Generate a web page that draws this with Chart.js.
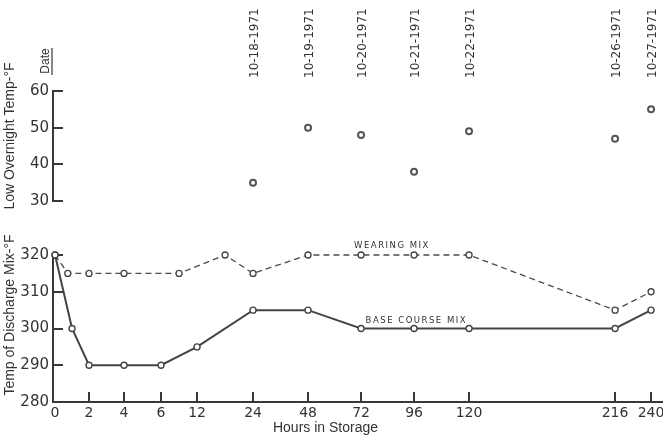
<!DOCTYPE html>
<html>
<head>
<meta charset="utf-8">
<script src="https://cdn.jsdelivr.net/npm/chart.js@4.4.0/dist/chart.umd.min.js"></script>
<style>
  html, body { margin: 0; padding: 0; background: #fff; }
  #wrap { position: relative; width: 663px; height: 439px; overflow: hidden; background: #fff; }
  #topChart { position: absolute; left: 0; top: 0; }
  #bottomChart { position: absolute; left: 0; top: 228px; }
</style>
</head>
<body>
<div id="wrap">
  <canvas id="topChart" width="663" height="228"></canvas>
  <canvas id="bottomChart" width="663" height="211"></canvas>
</div>
<script>
// ---- data -------------------------------------------------------------
// printed hour ticks and their relative spacing along the (non-uniform) time axis
const hourTicks = [0, 2, 4, 6, 12, 24, 48, 72, 96, 120, 216, 240];
const tickSpacing = [0, 34, 69, 106, 142, 198, 253, 306, 359, 414, 560, 596];

// low overnight air temperature, one reading per storage day
const dateHours = [24, 48, 72, 96, 120, 216, 240];
const dateLabels = ['10-18-1971', '10-19-1971', '10-20-1971', '10-21-1971', '10-22-1971', '10-26-1971', '10-27-1971'];
const lowOvernightTemp = [35, 50, 48, 38, 49, 47, 55];

// discharge temperature of the stored mixes
const wearingHours = [0, 0.75, 2, 4, 9, 18, 24, 48, 72, 96, 120, 216, 240];
const wearingTemp  = [320, 315, 315, 315, 315, 320, 315, 320, 320, 320, 320, 305, 310];
const baseHours = [0, 1, 2, 4, 6, 12, 24, 48, 72, 96, 120, 216, 240];
const baseTemp  = [320, 300, 290, 290, 290, 295, 305, 305, 300, 300, 300, 300, 305];

const INK = '#333333';
const AXIS = '#383838';

// ---- piecewise time scale -----------------------------------------------
function hourToUnit(h) {
  const n = hourTicks.length - 1;
  if (h <= hourTicks[0]) {
    return tickSpacing[0] + (h - hourTicks[0]) * (tickSpacing[1] - tickSpacing[0]) / (hourTicks[1] - hourTicks[0]);
  }
  for (let i = 1; i <= n; i++) {
    if (h <= hourTicks[i]) {
      const t = (h - hourTicks[i - 1]) / (hourTicks[i] - hourTicks[i - 1]);
      return tickSpacing[i - 1] + t * (tickSpacing[i] - tickSpacing[i - 1]);
    }
  }
  return tickSpacing[n] + (h - hourTicks[n]) * (tickSpacing[n] - tickSpacing[n - 1]) / (hourTicks[n] - hourTicks[n - 1]);
}
function unitToHour(u) {
  const n = tickSpacing.length - 1;
  if (u <= tickSpacing[0]) {
    return hourTicks[0] + (u - tickSpacing[0]) * (hourTicks[1] - hourTicks[0]) / (tickSpacing[1] - tickSpacing[0]);
  }
  for (let i = 1; i <= n; i++) {
    if (u <= tickSpacing[i]) {
      const t = (u - tickSpacing[i - 1]) / (tickSpacing[i] - tickSpacing[i - 1]);
      return hourTicks[i - 1] + t * (hourTicks[i] - hourTicks[i - 1]);
    }
  }
  return hourTicks[n] + (u - tickSpacing[n]) * (hourTicks[n] - hourTicks[n - 1]) / (tickSpacing[n] - tickSpacing[n - 1]);
}

class StorageHourScale extends Chart.LinearScale {
  determineDataLimits() {
    this.min = this.options.min;
    this.max = this.options.max;
  }
  buildTicks() {
    return hourTicks.map(v => ({ value: v }));
  }
  getPixelForValue(value) {
    const u0 = hourToUnit(this.min), u1 = hourToUnit(this.max);
    return this.getPixelForDecimal((hourToUnit(value) - u0) / (u1 - u0));
  }
  getValueForPixel(pixel) {
    const u0 = hourToUnit(this.min), u1 = hourToUnit(this.max);
    return unitToHour(u0 + this.getDecimalForPixel(pixel) * (u1 - u0));
  }
}
StorageHourScale.id = 'storageHours';
StorageHourScale.defaults = { ticks: { callback: v => String(v) } };
Chart.register(StorageHourScale);

// ---- shared helpers -------------------------------------------------------
const HOUR_MIN = -0.12;
const HOUR_MAX = 247.3;

function fitXAxis(height) {
  return s => {
    s.height = height;
    s.paddingLeft = 0;
    s.paddingRight = 0;
  };
}

// tick marks drawn on the inside of the axes
const innerTicks = {
  id: 'innerTicks',
  beforeDatasetsDraw(chart, args, opts) {
    const { ctx, chartArea } = chart;
    ctx.save();
    ctx.strokeStyle = AXIS;
    ctx.lineWidth = 2;
    (opts.yAxes || []).forEach(id => {
      const s = chart.scales[id];
      s.ticks.forEach(t => {
        const py = Math.round(s.getPixelForValue(t.value));
        ctx.beginPath();
        ctx.moveTo(chartArea.left, py);
        ctx.lineTo(chartArea.left + 10, py);
        ctx.stroke();
      });
    });
    (opts.xAxes || []).forEach(id => {
      const s = chart.scales[id];
      s.ticks.forEach(t => {
        if (t.value === 0) return;
        const px = Math.round(s.getPixelForValue(t.value));
        ctx.beginPath();
        ctx.moveTo(px, chartArea.bottom);
        ctx.lineTo(px, chartArea.bottom - 10);
        ctx.stroke();
      });
    });
    ctx.restore();
  }
};

// vertical axis caption, centred on a given height of the canvas
const axisCaption = {
  id: 'axisCaption',
  afterDraw(chart, args, opts) {
    const { ctx } = chart;
    ctx.save();
    ctx.translate(10, opts.centerY);
    ctx.rotate(-Math.PI / 2);
    ctx.fillStyle = INK;
    ctx.font = '14px "Liberation Sans", Arial, sans-serif';
    ctx.textAlign = 'center';
    ctx.textBaseline = 'middle';
    ctx.fillText(opts.text, 0, 0);
    ctx.restore();
  }
};

const tickFontY = { family: '"DejaVu Sans", sans-serif', size: 15 };

// ---- low overnight temperature panel ----------------------------------------
const dateHeader = {
  id: 'dateHeader',
  afterDraw(chart) {
    const { ctx } = chart;
    ctx.save();
    ctx.translate(46, 61);
    ctx.rotate(-Math.PI / 2);
    ctx.fillStyle = INK;
    ctx.font = '12px "Liberation Sans", Arial, sans-serif';
    ctx.textAlign = 'center';
    ctx.textBaseline = 'middle';
    ctx.fillText('Date', 0, 0);
    ctx.restore();
    ctx.save();
    ctx.strokeStyle = AXIS;
    ctx.lineWidth = 1.2;
    ctx.beginPath();
    ctx.moveTo(52, 48);
    ctx.lineTo(52, 75);
    ctx.stroke();
    ctx.restore();
  }
};

new Chart(document.getElementById('topChart'), {
  type: 'line',
  data: {
    datasets: [{
      label: 'Low Overnight Temp',
      data: dateHours.map((h, i) => ({ x: h, y: lowOvernightTemp[i] })),
      showLine: false,
      pointRadius: 3,
      pointBorderWidth: 2,
      pointBorderColor: '#555',
      pointBackgroundColor: '#fff',
      clip: false
    }]
  },
  options: {
    responsive: false,
    animation: false,
    devicePixelRatio: 1,
    layout: { autoPadding: false, padding: { left: 0, right: 1, top: 0, bottom: 27 } },
    plugins: {
      legend: { display: false },
      tooltip: { enabled: false },
      innerTicks: { yAxes: ['y'] },
      axisCaption: { text: 'Low Overnight Temp-°F', centerY: 136 }
    },
    scales: {
      x: {
        type: 'storageHours',
        position: 'top',
        min: HOUR_MIN,
        max: HOUR_MAX,
        afterBuildTicks: s => { s.ticks = dateHours.map(v => ({ value: v })); },
        afterFit: fitXAxis(91),
        grid: { display: false, drawTicks: false },
        border: { display: false },
        ticks: {
          autoSkip: false,
          minRotation: 90,
          maxRotation: 90,
          padding: 13,
          labelOffset: 16,
          color: INK,
          font: { family: '"DejaVu Sans", sans-serif', size: 12 },
          callback: v => dateLabels[dateHours.indexOf(v)]
        }
      },
      y: {
        min: 30,
        max: 60,
        afterFit: s => { s.width = 53; },
        grid: { display: false, drawTicks: false },
        border: { display: true, color: AXIS, width: 2 },
        ticks: { stepSize: 10, padding: 4, color: INK, font: tickFontY }
      }
    }
  },
  plugins: [innerTicks, dateHeader, axisCaption]
});

// ---- discharge temperature panel -------------------------------------------
const bottomNotes = {
  id: 'bottomNotes',
  afterDatasetsDraw(chart) {
    const { ctx, scales: { x, y } } = chart;
    ctx.save();
    ctx.fillStyle = INK;
    ctx.textAlign = 'center';
    ctx.textBaseline = 'middle';
    ctx.font = '8.5px "DejaVu Sans", sans-serif';
    ctx.letterSpacing = '1.5px';
    ctx.fillText('WEARING MIX', x.getPixelForValue(86), y.getPixelForValue(322.4));
    ctx.fillText('BASE COURSE MIX', x.getPixelForValue(97), y.getPixelForValue(302));
    ctx.letterSpacing = '0px';
    ctx.font = '14px "Liberation Sans", Arial, sans-serif';
    ctx.fillText('Hours in Storage', (x.left + x.right) / 2 - 32, chart.height - 11);
    ctx.restore();
  }
};

new Chart(document.getElementById('bottomChart'), {
  type: 'line',
  data: {
    datasets: [{
      label: 'Wearing Mix',
      data: wearingHours.map((h, i) => ({ x: h, y: wearingTemp[i] })),
      borderColor: '#4a4a4a',
      borderWidth: 1.3,
      borderDash: [6, 4],
      pointRadius: 3,
      pointBorderWidth: 1.3,
      pointBorderColor: '#444',
      pointBackgroundColor: '#fff',
      tension: 0,
      clip: false
    }, {
      label: 'Base Course Mix',
      data: baseHours.map((h, i) => ({ x: h, y: baseTemp[i] })),
      borderColor: '#444',
      borderWidth: 2,
      pointRadius: 3,
      pointBorderWidth: 1.4,
      pointBorderColor: '#444',
      pointBackgroundColor: '#fff',
      tension: 0,
      clip: false
    }]
  },
  options: {
    responsive: false,
    animation: false,
    devicePixelRatio: 1,
    layout: { autoPadding: false, padding: { left: 0, right: 1, top: 27, bottom: 0 } },
    plugins: {
      legend: { display: false },
      tooltip: { enabled: false },
      innerTicks: { yAxes: ['y'], xAxes: ['x'] },
      axisCaption: { text: 'Temp of Discharge Mix-°F', centerY: 87 }
    },
    scales: {
      x: {
        type: 'storageHours',
        position: 'bottom',
        min: HOUR_MIN,
        max: HOUR_MAX,
        afterFit: fitXAxis(37),
        grid: { display: false, drawTicks: false },
        border: { display: true, color: AXIS, width: 2 },
        ticks: {
          autoSkip: false,
          maxRotation: 0,
          padding: 3,
          color: INK,
          font: { family: '"DejaVu Sans", sans-serif', size: 14 },
          callback: v => String(v)
        }
      },
      y: {
        min: 280,
        max: 320,
        afterFit: s => { s.width = 53; },
        grid: { display: false, drawTicks: false },
        border: { display: true, color: AXIS, width: 2 },
        ticks: { stepSize: 10, padding: 4, color: INK, font: tickFontY }
      }
    }
  },
  plugins: [innerTicks, bottomNotes, axisCaption]
});
</script>
</body>
</html>
